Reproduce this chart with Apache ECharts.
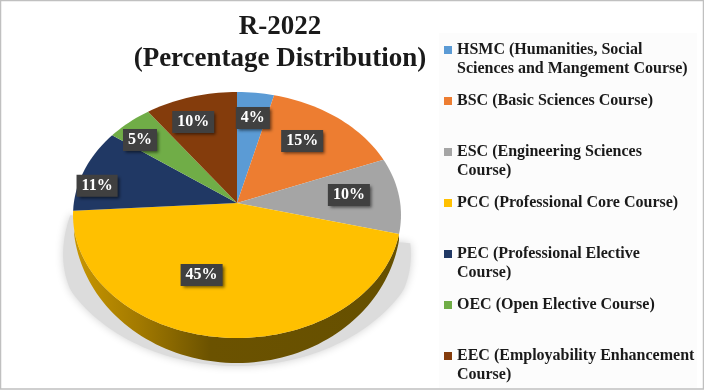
<!DOCTYPE html>
<html>
<head>
<meta charset="utf-8">
<style>
  html, body { margin: 0; padding: 0; background: #fff; }
  #chart { width: 704px; height: 390px; }
</style>
<script src="https://cdn.jsdelivr.net/npm/echarts@6/dist/echarts.min.js"></script>
</head>
<body>
<div id="chart"></div>
<script>
const categories = [
  "HSMC (Humanities, Social\nSciences and Mangement Course)",
  "BSC (Basic Sciences Course)",
  "ESC (Engineering Sciences\nCourse)",
  "PCC (Professional Core Course)",
  "PEC (Professional Elective\nCourse)",
  "OEC (Open Elective Course)",
  "EEC (Employability Enhancement\nCourse)"
];
const percentages = [4, 15, 10, 45, 11, 5, 10];
const sliceColors = ["#5b9bd5", "#ed7d31", "#a5a5a5", "#ffc000", "#203864", "#70ad47", "#843c0c"];
// where each label box sits, as [radius fraction, position on the 0-100 angle axis]
const labelSpots = [[0.756, 2.2], [0.68, 10.6], [0.693, 23.5], [0.595, 55.6], [0.881, 77.6], [0.83, 86.4], [0.767, 93.9]];

const CX = 237, CY = 203, R = 164;
const TILT = 0.0976, RX = 163.2, RY = 121.8, WALL = 25;

// polar coordinate -> tilted pie plane
function tilt(pt) {
  const u = (pt[0] - CX) / R, v = (pt[1] - CY) / R;
  const d = 1 - TILT * v;
  return [CX + RX * u / d, CY + RY * v / d, u, v];
}

function rimPoints(api, from, to, r) {
  const pts = [];
  const steps = Math.max(2, Math.ceil((to - from) * 2));
  for (let i = 0; i <= steps; i++) {
    pts.push(tilt(api.coord([r, from + (to - from) * i / steps])));
  }
  return pts;
}

function renderSlice(params, api) {
  const from = api.value(0), to = api.value(1), idx = params.seriesIndex - 1;
  const rim = rimPoints(api, from, to, 1);
  const children = [];

  // side wall, only for the part of the rim that faces the viewer
  const front = rim.filter(p => p[3] > 0.2);
  if (to - from > 30 && front.length > 1) {
    const bottom = front.map(p => [p[0], p[1] + WALL * Math.max(0, p[3])]).reverse();
    children.push({
      type: "polygon",
      shape: { points: front.map(p => [p[0], p[1]]).concat(bottom) },
      style: {
        fill: {
          type: "linear", x: 73, y: 0, x2: 400, y2: 0, global: true,
          colorStops: [
            { offset: 0, color: "#c99700" },
            { offset: 0.2, color: "#a37a00" },
            { offset: 0.42, color: "#6b5200" },
            { offset: 1, color: "#665000" }
          ]
        }
      }
    });
  }

  children.push({
    type: "polygon",
    shape: { points: [[CX, CY]].concat(rim.map(p => [p[0], p[1]])) },
    style: { fill: sliceColors[idx] }
  });

  const spot = tilt(api.coord(labelSpots[idx]));
  children.push({
    type: "text",
    z2: 100,
    x: spot[0],
    y: spot[1],
    style: {
      text: api.value(2) + "%",
      align: "center",
      verticalAlign: "middle",
      fill: "#fff",
      font: "bold 16px 'Liberation Serif'",
      backgroundColor: "#404040",
      padding: [3, 5, 3, 5],
      shadowColor: "rgba(0,0,0,0.55)",
      shadowBlur: 3,
      shadowOffsetX: 2,
      shadowOffsetY: 2
    }
  });
  return { type: "group", children: children };
}

// soft grey shadow under the front of the pie, widening fast below the rim ends
function renderShadow(params, api) {
  const rim = rimPoints(api, api.value(0), api.value(1), 1);
  const pts = rim.map(p => {
    const v = Math.max(0, p[3]);
    return [CX + (p[0] - CX) * (1 + 0.28 * Math.min(v, 0.55)), Math.min(366, p[1] + WALL * v + 3)];
  });
  return {
    type: "polygon",
    shape: { points: pts },
    style: {
      fill: "#dcdcdc",
      shadowColor: "rgba(0,0,0,0.18)",
      shadowBlur: 9
    }
  };
}

let acc = 0;
const sliceSeries = percentages.map((p, i) => {
  const row = [acc, acc + p, p];
  acc += p;
  return {
    type: "custom",
    name: categories[i],
    coordinateSystem: "polar",
    itemStyle: { color: sliceColors[i] },
    renderItem: renderSlice,
    data: [row]
  };
});

const chart = echarts.init(document.getElementById("chart"), null, { renderer: "canvas" });
chart.setOption({
  animation: false,
  backgroundColor: "#fff",
  title: {
    text: "R-2022\n(Percentage Distribution)",
    left: 275,
    top: 6,
    textAlign: "center",
    textStyle: {
      fontFamily: "Liberation Serif",
      fontWeight: "bold",
      fontSize: 27,
      lineHeight: 32,
      color: "#1a1a1a"
    }
  },
  polar: { center: [CX, CY], radius: R },
  angleAxis: {
    type: "value", min: 0, max: 100, startAngle: 90, clockwise: true,
    axisLine: { show: false }, axisTick: { show: false },
    axisLabel: { show: false }, splitLine: { show: false }
  },
  radiusAxis: {
    type: "value", min: 0, max: 1,
    axisLine: { show: false }, axisTick: { show: false },
    axisLabel: { show: false }, splitLine: { show: false }
  },
  legend: {
    orient: "vertical",
    left: 439,
    top: 35,
    height: 360,
    itemWidth: 8,
    itemHeight: 39,
    itemGap: 12,
    // bounding box is two text lines tall so the square lines up with line one
    icon: "path://M0 6H8V14H0Z M0 0H0Z M0 39H0Z",
    selectedMode: false,
    data: categories,
    formatter: name => name.indexOf("\n") < 0 ? name + "\n " : name,
    textStyle: {
      fontFamily: "Liberation Serif",
      fontWeight: "bold",
      fontSize: 16,
      lineHeight: 19.5,
      color: "#1a1a1a"
    }
  },
  graphic: [
    { type: "rect", z: -1, shape: { x: 439, y: 33, width: 258, height: 355 }, style: { fill: "#fcfcfc" } },
    { type: "rect", z: 10, shape: { x: 0.5, y: 0.5, width: 703, height: 388.5 }, style: { fill: "none", stroke: "#c0c0c0", lineWidth: 1.5 } }
  ],
  series: [{
    type: "custom",
    name: "shadow",
    coordinateSystem: "polar",
    renderItem: renderShadow,
    silent: true,
    data: [[29, 74]]
  }].concat(sliceSeries)
});
</script>
</body>
</html>
